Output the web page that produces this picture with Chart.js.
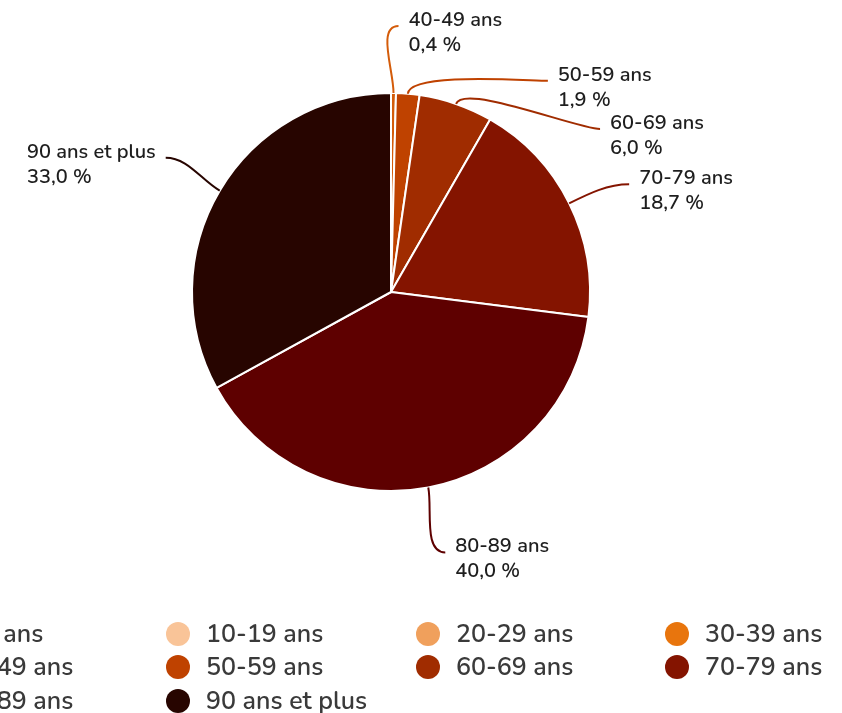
<!DOCTYPE html>
<html lang="fr">
<head>
<meta charset="utf-8">
<title>Répartition par âge</title>
<script src="https://cdn.jsdelivr.net/npm/chart.js@4.4.1/dist/chart.umd.min.js"></script>
<style>
    html, body { margin: 0; padding: 0; background: #ffffff; }
    #wrap { width: 842px; height: 713px; position: relative; overflow: hidden; }
</style>
</head>
<body>
<div id="wrap"><canvas id="ageChart"></canvas></div>
<script>
// Tranches d'âge et parts (%)
const ageLabels = ['0-9 ans', '10-19 ans', '20-29 ans', '30-39 ans', '40-49 ans',
    '50-59 ans', '60-69 ans', '70-79 ans', '80-89 ans', '90 ans et plus'];
const ageShares = [0, 0, 0, 0, 0.4, 1.9, 6.0, 18.7, 40.0, 33.0];
const ageColors = ['#fde0c4', '#f9c498', '#f0a05c', '#e8750d', '#d45c0a',
    '#bf4200', '#a02c00', '#841400', '#5e0000', '#270500'];

const FONT = '"Nunito", "Noto Sans", sans-serif';

// Décalage de la fin de chaque ligne de rappel par rapport au bord de la part
const calloutOffsets = {
    '40-49 ans': [5, -67],
    '50-59 ans': [140, -13],
    '60-69 ans': [144, 25],
    '70-79 ans': [60, -19],
    '80-89 ans': [17, 65],
    '90 ans et plus': [-54, -33]
};

const calloutPlugin = {
    id: 'callouts',
    afterDatasetsDraw(chart) {
        const ctx = chart.ctx;
        const meta = chart.getDatasetMeta(0);
        const values = chart.data.datasets[0].data;
        meta.data.forEach((arc, i) => {
            if (!values[i]) return;
            const label = chart.data.labels[i];
            const off = calloutOffsets[label];
            if (!off) return;
            const mid = (arc.startAngle + arc.endAngle) / 2;
            const ax = arc.x + Math.cos(mid) * arc.outerRadius;
            const ay = arc.y + Math.sin(mid) * arc.outerRadius;
            const ex = ax + off[0];
            const ey = ay + off[1];
            const dir = off[0] >= 0 ? 1 : -1;
            const k = 22;

            ctx.save();
            ctx.strokeStyle = ageColors[i];
            ctx.lineWidth = 2;
            ctx.beginPath();
            ctx.moveTo(ax, ay);
            ctx.bezierCurveTo(ax + Math.cos(mid) * k, ay + Math.sin(mid) * k,
                ex - dir * k, ey, ex, ey);
            ctx.stroke();

            ctx.fillStyle = '#1e1e1e';
            ctx.font = '600 20px ' + FONT;
            ctx.textBaseline = 'middle';
            ctx.textAlign = 'left';
            const pct = values[i].toFixed(1).replace('.', ',') + ' %';
            // bloc de texte aligné à gauche, placé du côté de la ligne
            const blockW = Math.max(ctx.measureText(label).width, ctx.measureText(pct).width);
            const tx = dir > 0 ? ex + 10 : ex - 10 - blockW;
            ctx.fillText(label, tx, ey - 5);
            ctx.fillText(pct, tx, ey + 20);
            ctx.restore();
        });
    }
};

// Légende en grille de 4 colonnes, la première partiellement hors cadre
const gridLegendPlugin = {
    id: 'gridLegend',
    afterDraw(chart) {
        const ctx = chart.ctx;
        const colX = [-72, 178, 428, 677];
        const rowY = [634, 667, 701];
        ctx.save();
        ctx.font = '600 25px ' + FONT;
        ctx.textBaseline = 'middle';
        ctx.textAlign = 'left';
        chart.data.labels.forEach((label, i) => {
            const x = colX[i % 4];
            const y = rowY[Math.floor(i / 4)];
            ctx.fillStyle = ageColors[i];
            ctx.beginPath();
            ctx.arc(x, y, 12, 0, Math.PI * 2);
            ctx.fill();
            ctx.fillStyle = '#3a3a3a';
            ctx.fillText(label, x + 28, y + 2);
        });
        ctx.restore();
    }
};

new Chart(document.getElementById('ageChart').getContext('2d'), {
    type: 'pie',
    data: {
        labels: ageLabels,
        datasets: [{
            data: ageShares,
            backgroundColor: ageColors,
            borderColor: '#ffffff',
            borderWidth: 2
        }]
    },
    options: {
        responsive: true,
        maintainAspectRatio: false,
        animation: false,
        layout: {
            padding: { top: 92, bottom: 221, left: 191, right: 251 }
        },
        plugins: {
            legend: { display: false },
            tooltip: { enabled: false }
        }
    },
    plugins: [calloutPlugin, gridLegendPlugin]
});
</script>
</body>
</html>
